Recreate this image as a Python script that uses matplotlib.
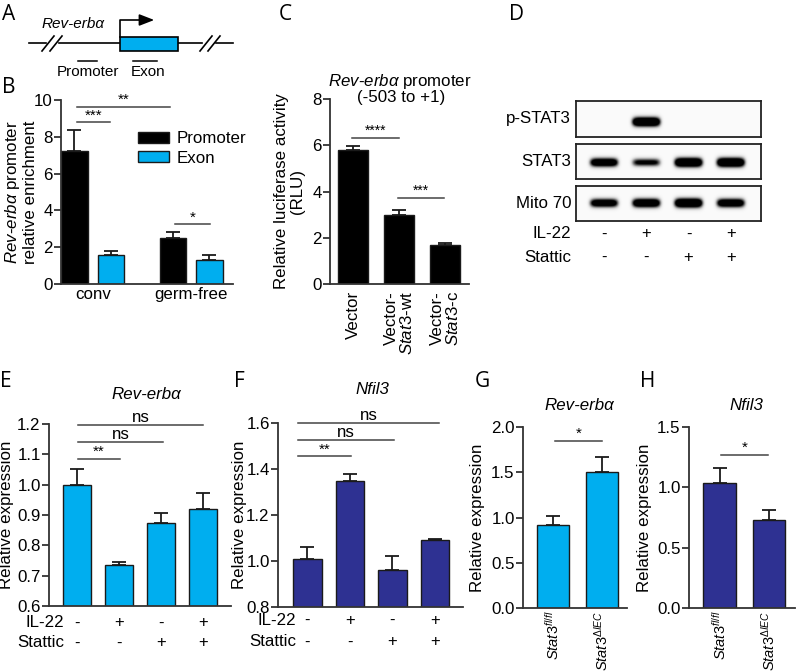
import numpy as np
import matplotlib
matplotlib.use("Agg")
import matplotlib.pyplot as plt

plt.rcParams['font.family'] = ['Liberation Sans', 'DejaVu Sans']
plt.rcParams['mathtext.fontset'] = 'custom'
plt.rcParams['mathtext.rm'] = 'Liberation Sans'
plt.rcParams['mathtext.it'] = 'Liberation Sans:italic'
plt.rcParams['mathtext.bf'] = 'Liberation Sans:bold'

W, H = 800, 672
CYAN = '#00AEEF'
NAVY = '#2E3192'
EDGE = '#1a1a1a'
AXC = '#333333'
FS = 12.2

# ---- data ----
b_groups = ['conv', 'germ-free']
b_promoter = [7.25, 2.5]
b_promoter_err = [1.1, 0.3]
b_exon = [1.6, 1.3]
b_exon_err = [0.2, 0.3]

c_labels = ['Vector', 'Vector-\n$\\mathit{Stat3}$-wt', 'Vector-\n$\\mathit{Stat3}$-c']
c_values = [5.8, 3.0, 1.7]
c_err = [0.15, 0.2, 0.07]

blot_rows = ['p-STAT3', 'STAT3', 'Mito 70']
blot_strength = [[0.0, 1.0, 0.0, 0.0],
                 [0.85, 0.6, 1.0, 1.0],
                 [0.8, 0.9, 1.0, 0.85]]
il22 = ['-', '+', '-', '+']
stattic = ['-', '-', '+', '+']

e_values = [1.0, 0.735, 0.873, 0.92]
e_err = [0.05, 0.01, 0.032, 0.052]
f_values = [1.01, 1.35, 0.96, 1.09]
f_err = [0.05, 0.03, 0.06, 0.005]

gh_labels = ['$\\mathit{Stat3}^{fl/fl}$', '$\\mathit{Stat3}^{\\Delta IEC}$']
g_values = [0.92, 1.5]
g_err = [0.1, 0.17]
h_values = [1.04, 0.73]
h_err = [0.12, 0.08]

fig = plt.figure(figsize=(8, 6.72), dpi=100)


def px_axes(x0, x1, ytop, ybot):
    ax = fig.add_axes([x0 / W, 1 - ybot / H, (x1 - x0) / W, (ybot - ytop) / H])
    ax.px = (x0, x1)
    return ax


def style(ax):
    for s in ['top', 'right']:
        ax.spines[s].set_visible(False)
    for s in ['left', 'bottom']:
        ax.spines[s].set_linewidth(1.3)
        ax.spines[s].set_color(AXC)
    ax.tick_params(axis='y', direction='out', length=5, width=1.3, color=AXC, labelsize=FS, pad=1)
    ax.tick_params(axis='x', length=0, labelsize=FS)
    ax.patch.set_alpha(0)


def ylab(ax, text, px_right):
    x0, x1 = ax.px
    ax.set_ylabel(text, fontsize=FS, linespacing=1.1)
    ax.yaxis.set_label_coords((px_right - x0) / (x1 - x0), 0.5)


def up_err(ax, x, y, e):
    ax.errorbar(x, y, yerr=[np.zeros(len(y)), e], fmt='none', ecolor=EDGE,
                elinewidth=1.3, capsize=5, capthick=1.3, zorder=3)


def sig(ax, x0, x1, y, text, size=11):
    ax.plot([x0, x1], [y, y], color='#444444', lw=1.1, clip_on=False)
    ax.annotate(text, xy=((x0 + x1) / 2, y), xytext=(0, 2), textcoords='offset points',
                ha='center', va='baseline', fontsize=size, annotation_clip=False)


def letter(x, y, s):
    fig.text(x / W, 1 - y / H, s, fontsize=15, family=['Open Sans', 'DejaVu Sans'], va='baseline')


def ftext(x, y, s, **kw):
    fig.text(x / W, 1 - y / H, s, fontsize=FS, **kw)


# ---- A: gene diagram ----
letter(2, 20, 'A')
axA = px_axes(0, 240, 0, 85)
axA.set_xlim(0, 240)
axA.set_ylim(85, 0)
axA.axis('off')
axA.plot([29, 46], [43, 43], color='black', lw=1.2)
axA.plot([59, 202], [43, 43], color='black', lw=1.2)
axA.plot([216, 233], [43, 43], color='black', lw=1.2)
for sx in [42, 50, 200, 208]:
    axA.plot([sx, sx + 12], [51, 36], color='black', lw=1.2)
axA.add_patch(plt.Rectangle((120, 37), 58, 14, facecolor=CYAN, edgecolor='black', lw=1.2, zorder=3))
axA.plot([120, 120, 146], [37, 20, 20], color='black', lw=1.2)
axA.annotate('', xy=(157, 20), xytext=(140, 20),
             arrowprops=dict(arrowstyle='-|>,head_length=0.9,head_width=0.35', color='black', lw=1.2))
axA.text(42, 28, 'Rev-erbα', fontsize=11, fontstyle='italic')
axA.plot([78, 97], [61, 61], color='black', lw=1.1)
axA.plot([133, 157], [61, 61], color='black', lw=1.1)
axA.text(88, 76, 'Promoter', fontsize=11, ha='center')
axA.text(148, 76, 'Exon', fontsize=11, ha='center')

# ---- B ----
letter(2, 93, 'B')
axB = px_axes(61, 233, 100, 284)
style(axB)
xg = np.arange(len(b_groups))
off, bw = 0.185, 0.27
axB.bar(xg - off, b_promoter, bw, color='black', edgecolor=EDGE, lw=1, label='Promoter', zorder=2)
axB.bar(xg + off, b_exon, bw, color=CYAN, edgecolor=EDGE, lw=1, label='Exon', zorder=2)
up_err(axB, xg - off, b_promoter, b_promoter_err)
up_err(axB, xg + off, b_exon, b_exon_err)
axB.set_xlim(-0.322, 1.424)
axB.set_ylim(0, 10)
axB.set_yticks(range(0, 11, 2))
axB.set_xticks(xg)
axB.set_xticklabels(b_groups)
axB.tick_params(axis='x', pad=2)
ylab(axB, '$\\mathit{Rev}$-$\\mathit{erb\\alpha}$ promoter\nrelative enrichment', 38)
sig(axB, -0.16, 0.175, 8.8, '***')
sig(axB, -0.16, 0.785, 9.62, '**')
sig(axB, 0.835, 1.19, 3.25, '*')
axB.legend(loc='upper left', bbox_to_anchor=(0.45, 0.83), frameon=False, fontsize=FS,
           handlelength=1.8, handleheight=0.6, handletextpad=0.45, borderpad=0,
           borderaxespad=0, labelspacing=0.25)

# ---- C ----
letter(279, 20, 'C')
axC = px_axes(330, 469, 99, 284)
style(axC)
xc = np.arange(len(c_values))
axC.bar(xc, c_values, 0.65, color='black', edgecolor=EDGE, lw=1, zorder=2)
up_err(axC, xc, c_values, c_err)
axC.set_xlim(-0.5, 2.51)
axC.set_ylim(0, 8)
axC.set_yticks(range(0, 9, 2))
axC.set_xticks(xc)
axC.set_xticklabels(c_labels, rotation=90, ha='center', va='top', multialignment='right',
                    linespacing=1.0)
axC.tick_params(axis='x', pad=5)
ylab(axC, 'Relative luciferase activity\n(RLU)', 305)
sig(axC, -0.02, 0.995, 6.33, '****', size=10)
sig(axC, 0.97, 1.97, 3.74, '***', size=10)
ftext(400, 86, '$\\mathit{Rev}$-$\\mathit{erb\\alpha}$ promoter', ha='center', va='baseline')
ftext(401, 102, '(-503 to +1)', ha='center', va='baseline')

# ---- D: western blot ----
letter(509, 20, 'D')
blot_y = [(101, 137), (144, 179), (186, 221)]
band_y = [0.42, 0.46, 0.5]
bxlim = (-0.66, 3.71)
xs = np.linspace(bxlim[0], bxlim[1], 370)
ys = np.linspace(0, 1, 70)
X, Y = np.meshgrid(xs, ys)
for row, (yt, yb), strength, yc in zip(blot_rows, blot_y, blot_strength, band_y):
    axD = px_axes(576, 761, yt, yb)
    img = np.full(X.shape, 0.02)
    for lane, s in enumerate(strength):
        if s <= 0:
            continue
        th = 0.08 + 0.05 * s
        img += s * np.exp(-(np.abs(X - lane) / 0.33) ** 6) * np.exp(-((Y - yc) / th) ** 2)
    axD.imshow(img, extent=(bxlim[0], bxlim[1], 0, 1), origin='lower', aspect='auto',
               cmap='Greys', vmin=0, vmax=0.55, interpolation='bilinear')
    axD.set_xlim(*bxlim)
    axD.set_ylim(0, 1)
    axD.set_xticks([])
    axD.set_yticks([])
    for s in axD.spines.values():
        s.set_linewidth(1.3)
        s.set_color('#222222')
    ftext(571, (yt + yb) / 2, row, ha='right', va='center')
for lane, (a, b) in enumerate(zip(il22, stattic)):
    axD.text(lane, -0.37, a, ha='center', va='center', fontsize=12, transform=axD.get_xaxis_transform(), clip_on=False)
    axD.text(lane, -1.03, b, ha='center', va='center', fontsize=12, transform=axD.get_xaxis_transform(), clip_on=False)
ftext(571, 234, 'IL-22', ha='right', va='center')
ftext(571, 257, 'Stattic', ha='right', va='center')


def treat_rows(ax, lab_right_px, y1, y2):
    x0, x1 = ax.px
    fx = (lab_right_px - x0) / (x1 - x0)
    tr = ax.get_xaxis_transform()
    ax.text(fx, y1, 'IL-22', ha='right', va='center', fontsize=FS, transform=ax.transAxes, clip_on=False)
    ax.text(fx, y2, 'Stattic', ha='right', va='center', fontsize=FS, transform=ax.transAxes, clip_on=False)
    for i, (a, b) in enumerate(zip(il22, stattic)):
        ax.text(i, y1, a, ha='center', va='center', fontsize=12, transform=tr, clip_on=False)
        ax.text(i, y2, b, ha='center', va='center', fontsize=12, transform=tr, clip_on=False)


# ---- E ----
letter(0, 387, 'E')
axE = px_axes(49, 231, 424, 606)
style(axE)
xe = np.arange(len(e_values))
axE.bar(xe, e_values, 0.667, color=CYAN, edgecolor=EDGE, lw=1, zorder=2)
up_err(axE, xe, e_values, e_err)
axE.set_xlim(-0.667, 3.667)
axE.set_ylim(0.6, 1.2)
axE.set_yticks(np.arange(0.6, 1.21, 0.1))
axE.yaxis.set_major_formatter(matplotlib.ticker.FormatStrFormatter('%.1f'))
axE.set_xticks([])
ylab(axE, 'Relative expression', 14)
sig(axE, 0.02, 1.02, 1.085, '**')
sig(axE, 0.02, 2.05, 1.142, 'ns', size=FS)
sig(axE, 0.02, 3.0, 1.197, 'ns', size=FS)
treat_rows(axE, 64, -0.093, -0.203)
ftext(146, 399, 'Rev-erbα', ha='center', va='baseline', fontstyle='italic')

# ---- F ----
letter(234, 387, 'F')
axF = px_axes(278, 463, 423, 607)
style(axF)
xf = np.arange(len(f_values))
axF.bar(xf, f_values, 0.68, color=NAVY, edgecolor=EDGE, lw=1, zorder=2)
up_err(axF, xf, f_values, f_err)
axF.set_xlim(-0.694, 3.66)
axF.set_ylim(0.8, 1.6)
axF.set_yticks(np.arange(0.8, 1.61, 0.2))
axF.yaxis.set_major_formatter(matplotlib.ticker.FormatStrFormatter('%.1f'))
axF.set_xticks([])
ylab(axF, 'Relative expression', 247)
sig(axF, -0.22, 1.02, 1.456, '**')
sig(axF, -0.22, 2.03, 1.526, 'ns', size=FS)
sig(axF, -0.22, 3.1, 1.6, 'ns', size=FS)
treat_rows(axF, 296, -0.075, -0.19)
ftext(372, 394, 'Nfil3', ha='center', va='baseline', fontstyle='italic')

# ---- G ----
letter(475, 387, 'G')
axG = px_axes(523, 627, 427, 608)
style(axG)
xgg = np.arange(len(g_values))
axG.bar(xgg, g_values, 0.65, color=CYAN, edgecolor=EDGE, lw=1, zorder=2)
up_err(axG, xgg, g_values, g_err)
axG.set_xlim(-0.61, 1.51)
axG.set_ylim(0, 2)
axG.set_yticks(np.arange(0, 2.01, 0.5))
axG.yaxis.set_major_formatter(matplotlib.ticker.FormatStrFormatter('%.1f'))
axG.set_xticks(xgg)
axG.set_xticklabels(gh_labels, rotation=90, ha='center', va='top', fontsize=10.5)
axG.tick_params(axis='x', pad=2)
ylab(axG, 'Relative expression', 485)
sig(axG, 0.04, 1.0, 1.845, '*')
ftext(579, 410, 'Rev-erbα', ha='center', va='baseline', fontstyle='italic')

# ---- H ----
letter(640, 387, 'H')
axH = px_axes(689, 795, 427, 608)
style(axH)
xh = np.arange(len(h_values))
axH.bar(xh, h_values, 0.67, color=NAVY, edgecolor=EDGE, lw=1, zorder=2)
up_err(axH, xh, h_values, h_err)
axH.set_xlim(-0.63, 1.53)
axH.set_ylim(0, 1.5)
axH.set_yticks(np.arange(0, 1.51, 0.5))
axH.yaxis.set_major_formatter(matplotlib.ticker.FormatStrFormatter('%.1f'))
axH.set_xticks(xh)
axH.set_xticklabels(gh_labels, rotation=90, ha='center', va='top', fontsize=10.5)
axH.tick_params(axis='x', pad=2)
ylab(axH, 'Relative expression', 652)
sig(axH, 0.02, 0.98, 1.27, '*')
ftext(746, 410, 'Nfil3', ha='center', va='baseline', fontstyle='italic')

fig.savefig('out.png', dpi=100)
